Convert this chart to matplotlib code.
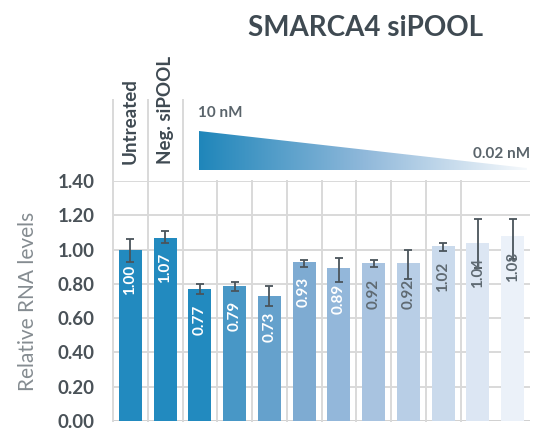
import numpy as np
import matplotlib.pyplot as plt
from matplotlib.patches import Polygon
from matplotlib.colors import LinearSegmentedColormap

# data
values = [1.00, 1.07, 0.77, 0.79, 0.73, 0.93, 0.89, 0.92, 0.92, 1.02, 1.04, 1.08]
err_low = [0.07, 0.03, 0.03, 0.03, 0.06, 0.03, 0.08, 0.02, 0.09, 0.03, 0.15, 0.135]
err_high = [0.06, 0.04, 0.03, 0.02, 0.06, 0.01, 0.06, 0.02, 0.08, 0.02, 0.14, 0.10]
labels = ["1.00", "1.07", "0.77", "0.79", "0.73", "0.93", "0.89", "0.92", "0.92", "1.02", "1.04", "1.08"]
colors = ["#228abf", "#228abf", "#228abf", "#4897c6", "#65a1cc", "#7eabd2",
          "#93b7da", "#a8c3e0", "#b8cee6", "#cadaec", "#dce6f3", "#ebf1f9"]
label_colors = ["white"] * 7 + ["#5f6a72"] * 5
yticks = [0.0, 0.2, 0.4, 0.6, 0.8, 1.0, 1.2, 1.4]
controls = ["Untreated", "Neg. siPOOL"]

plt.rcParams['font.family'] = ["Lato", "DejaVu Sans"]

dark = "#3f4a52"
grid = "#d9d9d9"

fig = plt.figure(figsize=(5.4, 4.33), dpi=100)
ax = fig.add_axes([113 / 540, 1 - 421 / 433, 417 / 540, 240 / 433])

x = np.arange(len(values))
ax.bar(x, values, width=0.66, color=colors, zorder=2)
ax.errorbar(x, values, yerr=[err_low, err_high], fmt="none", ecolor="#4a545b",
            elinewidth=1.3, capsize=3, capthick=1.3, zorder=3)

for xi, v, lab, c in zip(x, values, labels, label_colors):
    ax.text(xi, v - 0.09, lab, rotation=90, ha="center", va="top",
            color=c, fontsize=11, fontweight="bold", zorder=4)

ax.set_xlim(-0.5, 11.5)
ax.set_ylim(0, 1.4)
ax.set_yticks(yticks)
ax.set_yticklabels(["%.2f" % t for t in yticks], fontsize=13.5,
                   fontweight="bold", color="#4a5258")
ax.tick_params(axis="y", length=0, pad=13)
ax.set_xticks([])
for s in ax.spines.values():
    s.set_visible(False)
for t in yticks[1:]:
    ax.axhline(t, color=grid, lw=1.4, zorder=1)
ax.axhline(0, color="#cccccc", lw=2, zorder=1)
for i in range(11):
    top = 1.87 if i < 3 else 1.4
    ax.plot([i - 0.5, i - 0.5], [0, top], color=grid, lw=1.4, zorder=1, clip_on=False)

ax.set_ylabel("Relative RNA levels", fontsize=15, fontweight="normal",
              color="#858c91", labelpad=14)

# control labels
for i, name in enumerate(controls):
    ax.text(i, 1.5, name, rotation=90, ha="center", va="bottom",
            fontsize=13.5, fontweight="bold", color=dark, clip_on=False)

# gradient triangle
tax = fig.add_axes([199 / 540, 1 - 170 / 433, 328 / 540, 39 / 433])
tax.set_xlim(0, 1)
tax.set_ylim(0, 1)
tax.axis("off")
cmap = LinearSegmentedColormap.from_list("g", ["#1f86ba", "#8fb8da", "#f6f9fc"])
im = tax.imshow(np.linspace(0, 1, 256)[None, :], cmap=cmap, aspect="auto",
                extent=[0, 1, 0, 1])
tri = Polygon([[0, 0], [0, 1], [1, 0.05], [1, 0]], closed=True, transform=tax.transData)
im.set_clip_path(tri)

fig.text(198 / 540, 1 - 113 / 433, "10 nM", fontsize=11, fontweight="bold",
         color="#5a646b", ha="left", va="center")
fig.text(530 / 540, 1 - 154 / 433, "0.02 nM", fontsize=11, fontweight="bold",
         color="#5a646b", ha="right", va="center")

fig.text(365 / 540, 1 - 28 / 433, "SMARCA4 siPOOL", fontsize=20, fontweight="bold",
         color=dark, ha="center", va="center")

fig.savefig("out.png", dpi=100)
